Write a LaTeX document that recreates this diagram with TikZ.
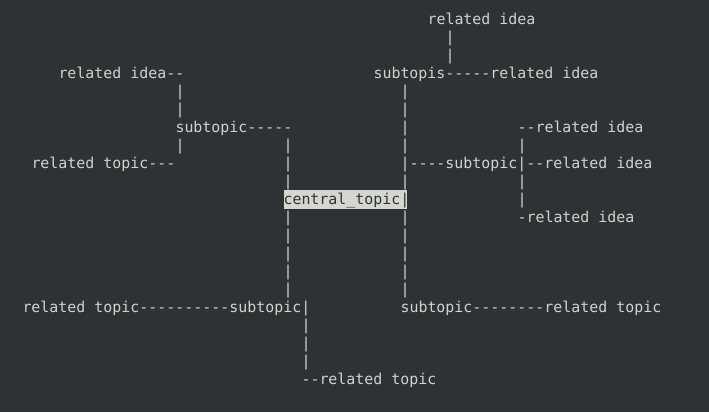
\documentclass[tikz,border=0pt]{standalone}
\usepackage{fontspec}
\usepackage{tikz}
\usepackage{xcolor}
\newfontfamily\termfont{DejaVu Sans Mono}[Ligatures=ResetAll]
\definecolor{termbg}{HTML}{2E3235}
\definecolor{termfg}{HTML}{D0D3CC}
\definecolor{selbg}{HTML}{D3D7CF}
\definecolor{selfg}{HTML}{2E3436}
\tikzset{
    term-text/.style = {anchor=base west, inner sep=0pt, outer sep=0pt, text=termfg, font=\fontsize{11.21}{13.5}\termfont\selectfont},
    term-sel/.style = {term-text, text=selfg},
}

\begin{document}
\begin{tikzpicture}[x=6.75pt, y=-13.5pt]
\fill[termbg] (-0.5,-1.3333) rectangle (78.2778,21.5556);
\fill[selbg] (31,9.2222) rectangle (44.75,10.2778);

% top right branch
\node[term-text] (idea-top) at (47,0) {related idea};
\foreach \r in {1,2}
    \node[term-text] (pipe-top\r) at (49,\r) {|};
\node[term-text] (subtopis) at (41,3) {subtopis-----related idea};

% top left branch
\node[term-text] (idea-left) at (6,3) {related idea--};
\foreach \r in {4,5,7}
    \node[term-text] (pipe-left\r) at (19,\r) {|};
\node[term-text] (sub-left) at (19,6) {subtopic-----};
\node[term-text] (topic-left) at (3,8) {related topic---};

% right branch
\node[term-text] (idea-right1) at (57,6) {--related idea};
\foreach \r in {7,9,10}
    \node[term-text] (pipe-right\r) at (57,\r) {|};
\node[term-text] (sub-right) at (44,8) {|----subtopic|--related idea};
\node[term-text] (idea-right3) at (57,11) {-related idea};

% trunk
\foreach \r in {4,5,6,7,9,11,12,13,14,15}
    \node[term-text] (pipe-mid\r) at (44,\r) {|};
\foreach \r in {7,8,9,11,12,13,14,15}
    \node[term-text] (pipe-ctr\r) at (31,\r) {|};
\node[term-sel] (central) at (31,10) {central\_topic|};

% bottom
\node[term-text] (sub-botleft) at (2,16) {related topic----------subtopic|};
\node[term-text] (sub-botright) at (44,16) {subtopic--------related topic};
\foreach \r in {17,18,19}
    \node[term-text] (pipe-bot\r) at (33,\r) {|};
\node[term-text] (topic-bot) at (33,20) {--related topic};
\end{tikzpicture}
\end{document}
